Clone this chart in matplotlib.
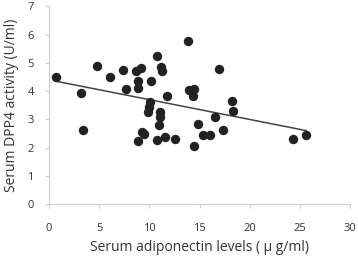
import numpy as np
import matplotlib.pyplot as plt

# serum adiponectin (ug/ml) vs serum DPP4 activity (U/ml)
adiponectin = [0.7, 3.2, 3.4, 4.8, 6.1, 7.4, 7.7, 8.7, 9.2, 8.9, 8.9, 8.9,
               9.3, 9.5, 9.9, 10.0, 10.1, 10.2, 10.8, 10.8, 11.0, 11.1, 11.1,
               11.2, 11.3, 11.6, 11.8, 12.6, 13.8, 13.9, 14.4, 14.3, 14.4,
               14.8, 15.3, 16.0, 16.5, 16.9, 17.3, 18.2, 18.3, 24.3, 25.6]
dpp4 = [4.51, 3.95, 2.62, 4.89, 4.51, 4.75, 4.09, 4.70, 4.82, 4.37, 4.12, 2.23,
        2.56, 2.49, 3.27, 3.45, 3.60, 4.37, 5.25, 2.26, 2.80, 3.26, 3.08,
        4.85, 4.72, 2.36, 3.82, 2.31, 5.78, 4.03, 4.07, 3.84, 2.06,
        2.84, 2.45, 2.45, 3.08, 4.80, 2.62, 3.66, 3.31, 2.29, 2.46]

x = np.array(adiponectin)
y = np.array(dpp4)
slope, intercept = np.polyfit(x, y, 1)
xfit = np.array([x.min(), x.max()])

plt.rcParams['font.family'] = ['Open Sans', 'DejaVu Sans']

fig = plt.figure(figsize=(3.58, 2.56), dpi=100)
ax = fig.add_axes([0.137, 0.203, 0.841, 0.772])

ax.scatter(x, y, s=46, color='#222222', zorder=3, linewidths=0)
ax.plot(xfit, slope * xfit + intercept, color='#444444', lw=1.1, zorder=2)

ax.set_xlim(0, 30)
ax.set_ylim(0, 7)
ax.set_xticks(range(0, 31, 5))
ax.set_yticks(range(0, 8))

for side in ['top', 'right']:
    ax.spines[side].set_visible(False)
for side in ['left', 'bottom']:
    ax.spines[side].set_color('#d0d0d0')
    ax.spines[side].set_linewidth(0.9)
ax.tick_params(colors='#d0d0d0', labelcolor='#333333', labelsize=8,
               length=3, width=0.9, direction='out')
ax.tick_params(axis='x', pad=11)
ax.tick_params(axis='y', pad=8)

ax.set_xlabel('Serum adiponectin levels ( \u03bc g/ml)', fontsize=10,
              color='#333333', labelpad=4)
ax.set_ylabel('Serum DPP4 activity (U/ml)', fontsize=10, color='#333333',
              labelpad=6)

fig.savefig('out.png', dpi=100)
